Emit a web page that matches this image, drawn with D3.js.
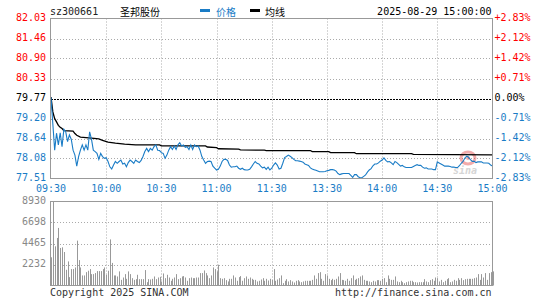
<html lang="zh">

<head>
  <meta charset="UTF-8">
  <title>圣邦股份 分时</title>
  <style>
    body { margin: 0; background: #fff; }
    text { font-family: "DejaVu Sans Mono", monospace; font-size: 10px; }
    .cjk { font-family: "Noto Sans CJK SC", sans-serif; }
  </style>
</head>

<body>
  <div id="chart"></div>

  <script src="https://d3js.org/d3.v7.min.js"></script>
  <script>

    // chart values
    const code = "sz300661";
    const stockName = "圣邦股份";
    const stamp = "2025-08-29 15:00:00";
    const prevClose = 79.77;

    const priceTicks = [82.03, 81.46, 80.90, 80.33, 79.77, 79.20, 78.64, 78.08, 77.51];
    const pctTicks = ["+2.83%", "+2.12%", "+1.42%", "+0.71%", "0.00%", "-0.71%", "-1.42%", "-2.12%", "-2.83%"];
    const timeLabels = ["09:30", "10:00", "10:30", "11:00", "11:30", "13:30", "14:00", "14:30", "15:00"];
    const volTicks = [8930, 6698, 4465, 2232];

    // one price per minute, 09:30-11:30 then 13:01-15:00
    const prices = [
      79.80, 79.05, 78.31, 78.79, 78.46, 78.80, 78.41, 78.90, 78.83, 78.55,
      78.74, 78.62, 78.31, 78.17, 77.86, 78.13, 78.31, 78.46, 78.31, 78.46,
      78.31, 78.83, 78.62, 78.31, 78.27, 78.22, 78.05, 78.22, 78.13, 78.08,
      78.10, 77.99, 77.84, 77.78, 77.89, 77.99, 77.94, 77.99, 78.03, 77.92,
      77.94, 77.84, 77.96, 78.03, 77.99, 77.94, 78.03, 77.99, 77.96, 78.02,
      78.13, 78.27, 78.36, 78.27, 78.36, 78.31, 78.41, 78.46, 78.31, 78.30,
      78.24, 78.22, 78.08, 78.17, 78.31, 78.41, 78.33, 78.43, 78.33, 78.46,
      78.52, 78.43, 78.46, 78.39, 78.41, 78.33, 78.46, 78.33, 78.46, 78.41,
      78.43, 78.31, 78.13, 78.03, 77.94, 77.99, 78.00, 77.99, 77.86, 77.80,
      77.75, 77.77, 77.86, 77.99, 78.05, 78.05, 78.02, 77.89, 77.83, 77.84,
      77.84, 77.86, 77.80, 77.77, 77.80, 77.76, 77.75, 77.75, 77.77, 77.84,
      77.92, 77.99, 77.94, 77.92, 77.86, 77.81, 77.83, 77.77, 77.83, 77.75,
      77.80,
      77.89, 77.95, 77.89, 77.78, 77.80, 77.94, 78.10, 78.13, 78.17, 78.14,
      78.10, 78.05, 78.01, 78.01, 78.00, 77.99, 77.97, 77.92, 77.90, 77.88,
      77.81, 77.78, 77.76, 77.74, 77.72, 77.70, 77.70, 77.70, 77.71, 77.73,
      77.74, 77.76, 77.76, 77.75, 77.72, 77.65, 77.62, 77.64, 77.65, 77.65,
      77.65, 77.65, 77.60, 77.54, 77.62, 77.62, 77.56, 77.53, 77.53, 77.57,
      77.61, 77.69, 77.75, 77.79, 77.87, 77.92, 77.92, 77.95, 78.00, 78.03,
      78.09, 78.02, 77.98, 77.99, 77.95, 77.90, 77.99, 77.96, 77.91, 77.86,
      77.88, 77.84, 77.82, 77.82, 77.82, 77.82, 77.85, 77.88, 77.90, 77.88,
      77.88, 77.83, 77.80, 77.81, 77.78, 77.78, 77.78, 77.76, 77.76, 77.98,
      77.95, 77.92, 77.89, 77.86, 77.86, 77.86, 77.85, 77.83, 77.83, 77.82,
      77.82, 77.87, 77.94, 77.99, 78.09, 78.14, 78.11, 78.04, 77.99, 78.00,
      77.96, 77.98, 77.98, 77.98, 77.95, 77.95, 77.95, 77.94, 77.89, 77.86
    ];

    // average line, read at the minutes where it bends
    const avgMinutes = [0, 1, 2, 3, 4, 5, 6, 7, 12, 13, 14, 16, 22, 26, 28, 31, 35, 40, 46, 59, 60, 84, 85, 90, 91, 102, 103, 116, 117, 141, 142, 151, 152, 165, 166, 196, 197, 240];
    const avgValues = [79.81, 79.39, 79.20, 79.11, 79.01, 78.96, 78.92, 78.86, 78.85, 78.78, 78.73, 78.68, 78.65, 78.63, 78.59, 78.54, 78.51, 78.48, 78.46, 78.46, 78.43, 78.43, 78.40, 78.38, 78.35, 78.34, 78.32, 78.31, 78.30, 78.30, 78.27, 78.27, 78.24, 78.24, 78.21, 78.21, 78.19, 78.18];

    // volume per minute (lots)
    const volumes = [
      3000, 8930, 4165, 5055, 6120, 3990, 4060, 3560, 1670, 2560,
      890, 1745, 1745, 1920, 4770, 2700, 1920, 1070, 1070, 1420,
      1570, 1745, 1210, 1210, 1320, 1530, 1530, 1530, 1745, 1920,
      1140, 1570, 4900, 2400, 1070, 1070, 960, 1500, 600, 850,
      1210, 710, 1500, 1210, 780, 600, 675, 1140, 675, 675,
      675, 1640, 356, 675, 640, 710, 960, 675, 850, 925,
      430, 1280, 780, 1140, 850, 500, 710, 850, 1210, 675,
      780, 960, 1000, 850, 500, 780, 850, 780, 780, 850,
      850, 1320, 1320, 1600, 1320, 1070, 780, 1070, 1920, 1745,
      1500, 2210, 780, 710, 780, 570, 430, 710, 710, 1070,
      850, 500, 890, 1000, 500, 780, 960, 710, 850, 710,
      600, 600, 430, 500, 640, 780, 500, 710, 530, 710,
      600,
      1745, 500, 640, 780, 1070, 250, 500, 675, 430, 570,
      430, 320, 500, 570, 430, 356, 430, 500, 500, 500,
      500, 600, 1070, 710, 1320, 1420, 710, 500, 1210, 1070,
      710, 570, 710, 600, 710, 960, 1320, 600, 570, 500,
      710, 500, 780, 1070, 600, 710, 780, 960, 1070, 600,
      500, 500, 430, 356, 500, 430, 570, 570, 500, 710,
      780, 356, 1070, 710, 600, 600, 960, 430, 356, 500,
      356, 250, 356, 430, 500, 500, 356, 356, 320, 356,
      356, 356, 675, 430, 356, 570, 675, 500, 850, 780,
      430, 600, 356, 500, 675, 780, 356, 430, 600, 500,
      780, 600, 780, 570, 675, 710, 710, 710, 710, 780,
      850, 1210, 600, 1210, 850, 1320, 600, 1320, 1420, 1500
    ];

    const w = 545;
    const h = 300;
    const left = 51;
    const right = 492.5;
    const blue = "#1a7cc6";
    const red = "#ff0000";
    const frameColor = "#999";
    const gridColor = "#aaa";

    const svg = d3.select("#chart")
      .append("svg")
      .attr("width", w)
      .attr("height", h);

    //scales
    const xScale = d3.scaleLinear()
      .domain([0, 240])
      .range([left, right]);

    const yScale = d3.scaleLinear()
      .domain([priceTicks[priceTicks.length - 1], priceTicks[0]])
      .range([178.5, 18.5]);

    const vScale = d3.scaleLinear()
      .domain([0, volTicks[0]])
      .range([285.5, 201.5]);

    const gridMinutes = d3.range(0, 241, 30);

    // price panel grid
    svg.append("g")
      .selectAll("line")
      .data(priceTicks.slice(1, -1).filter(v => v !== prevClose))
      .enter()
      .append("line")
      .attr("x1", left).attr("x2", right)
      .attr("y1", d => Math.round(yScale(d)) + 0.5)
      .attr("y2", d => Math.round(yScale(d)) + 0.5)
      .attr("stroke", gridColor)
      .attr("stroke-dasharray", "1,2");

    svg.append("g")
      .selectAll("line")
      .data(gridMinutes.slice(1, -1))
      .enter()
      .append("line")
      .attr("x1", d => Math.round(xScale(d)) + 0.5)
      .attr("x2", d => Math.round(xScale(d)) + 0.5)
      .attr("y1", 18.5).attr("y2", 178.5)
      .attr("stroke", gridColor)
      .attr("stroke-dasharray", "1,2");

    // volume panel grid
    svg.append("g")
      .selectAll("line")
      .data(volTicks.slice(1))
      .enter()
      .append("line")
      .attr("x1", left).attr("x2", right)
      .attr("y1", d => Math.round(vScale(d)) + 0.5)
      .attr("y2", d => Math.round(vScale(d)) + 0.5)
      .attr("stroke", gridColor)
      .attr("stroke-dasharray", "1,2");

    svg.append("g")
      .selectAll("line")
      .data(gridMinutes.slice(1, -1))
      .enter()
      .append("line")
      .attr("x1", d => Math.round(xScale(d)) + 0.5)
      .attr("x2", d => Math.round(xScale(d)) + 0.5)
      .attr("y1", 201.5).attr("y2", 285.5)
      .attr("stroke", gridColor)
      .attr("stroke-dasharray", "1,2");

    // previous close line
    svg.append("line")
      .attr("x1", left).attr("x2", right)
      .attr("y1", Math.round(yScale(prevClose)) + 0.5)
      .attr("y2", Math.round(yScale(prevClose)) + 0.5)
      .attr("stroke", "#000")
      .attr("stroke-dasharray", "2,1");

    // volume bars
    svg.append("g")
      .selectAll("rect")
      .data(volumes)
      .enter()
      .append("rect")
      .attr("x", (d, i) => Math.round(xScale(i)))
      .attr("y", d => vScale(d))
      .attr("width", 1)
      .attr("height", d => vScale(0) - vScale(d))
      .attr("fill", "#999");

    // sina watermark
    const mark = svg.append("g").attr("opacity", 0.4);
    mark.append("ellipse")
      .attr("cx", 468).attr("cy", 158).attr("rx", 7).attr("ry", 6)
      .attr("fill", "none").attr("stroke", "#e03030").attr("stroke-width", 3);
    mark.append("circle")
      .attr("cx", 468).attr("cy", 158).attr("r", 2)
      .attr("fill", "#e03030");
    mark.append("text")
      .attr("x", 453).attr("y", 174)
      .attr("font-family", "DejaVu Sans")
      .attr("font-size", 19)
      .attr("font-style", "italic")
      .attr("font-weight", "bold")
      .attr("fill", "#999")
      .text("sina");

    // average line
    const avgLine = d3.line()
      .x((d, i) => xScale(avgMinutes[i]))
      .y(d => yScale(d));

    svg.append("path")
      .datum(avgValues)
      .attr("d", avgLine)
      .attr("fill", "none")
      .attr("stroke", "#000")
      .attr("stroke-width", 1.3);

    // price line
    const priceLine = d3.line()
      .x((d, i) => xScale(i))
      .y(d => yScale(d));

    svg.append("path")
      .datum(prices)
      .attr("d", priceLine)
      .attr("fill", "none")
      .attr("stroke", blue)
      .attr("stroke-width", 1.1);

    // frames
    svg.append("rect")
      .attr("x", 50.5).attr("y", 18.5)
      .attr("width", right - 50.5).attr("height", 160)
      .attr("fill", "none").attr("stroke", frameColor);

    svg.append("rect")
      .attr("x", 50.5).attr("y", 201.5)
      .attr("width", right - 50.5).attr("height", 84)
      .attr("fill", "none").attr("stroke", frameColor);

    // left price labels
    svg.append("g")
      .selectAll("text")
      .data(priceTicks)
      .enter()
      .append("text")
      .attr("x", 46)
      .attr("y", d => yScale(d) + 2.2)
      .attr("text-anchor", "end")
      .attr("fill", d => d > prevClose ? red : (d === prevClose ? "#000" : blue))
      .text(d => d.toFixed(2));

    // right percent labels
    svg.append("g")
      .selectAll("text")
      .data(pctTicks)
      .enter()
      .append("text")
      .attr("x", 494.5)
      .attr("y", (d, i) => yScale(priceTicks[i]) + 2.2)
      .attr("fill", d => d[0] === "+" ? red : (d[0] === "-" ? blue : "#000"))
      .text(d => d);

    // time labels
    svg.append("g")
      .selectAll("text")
      .data(timeLabels)
      .enter()
      .append("text")
      .attr("x", (d, i) => xScale(gridMinutes[i]))
      .attr("y", 191.5)
      .attr("text-anchor", "middle")
      .attr("fill", blue)
      .text(d => d);

    // volume labels
    svg.append("g")
      .selectAll("text")
      .data(volTicks)
      .enter()
      .append("text")
      .attr("x", 46)
      .attr("y", d => vScale(d) + 2.5)
      .attr("text-anchor", "end")
      .attr("fill", "#888")
      .text(d => d);

    // header
    svg.append("text")
      .attr("x", 50).attr("y", 15)
      .attr("fill", "#222")
      .text(code);

    svg.append("text")
      .attr("class", "cjk")
      .attr("x", 120).attr("y", 15.5)
      .attr("font-size", 12)
      .attr("fill", "#000")
      .text(stockName);

    svg.append("rect")
      .attr("x", 200).attr("y", 9).attr("width", 10).attr("height", 3)
      .attr("fill", blue);
    svg.append("text")
      .attr("class", "cjk")
      .attr("x", 216).attr("y", 15.5)
      .attr("font-size", 11.5)
      .attr("fill", blue)
      .text("价格");

    svg.append("rect")
      .attr("x", 250).attr("y", 9).attr("width", 10).attr("height", 3)
      .attr("fill", "#000");
    svg.append("text")
      .attr("class", "cjk")
      .attr("x", 265).attr("y", 15.5)
      .attr("font-size", 11.5)
      .attr("fill", "#000")
      .text("均线");

    svg.append("text")
      .attr("x", 491.5).attr("y", 15)
      .attr("text-anchor", "end")
      .attr("fill", "#000")
      .text(stamp);

    // footer
    svg.append("text")
      .attr("x", 50).attr("y", 295.5)
      .attr("fill", "#333")
      .text("Copyright 2025 SINA.COM");

    svg.append("text")
      .attr("x", 491.5).attr("y", 295.5)
      .attr("text-anchor", "end")
      .attr("fill", "#333")
      .text("http://finance.sina.com.cn");

  </script>
</body>

</html>
